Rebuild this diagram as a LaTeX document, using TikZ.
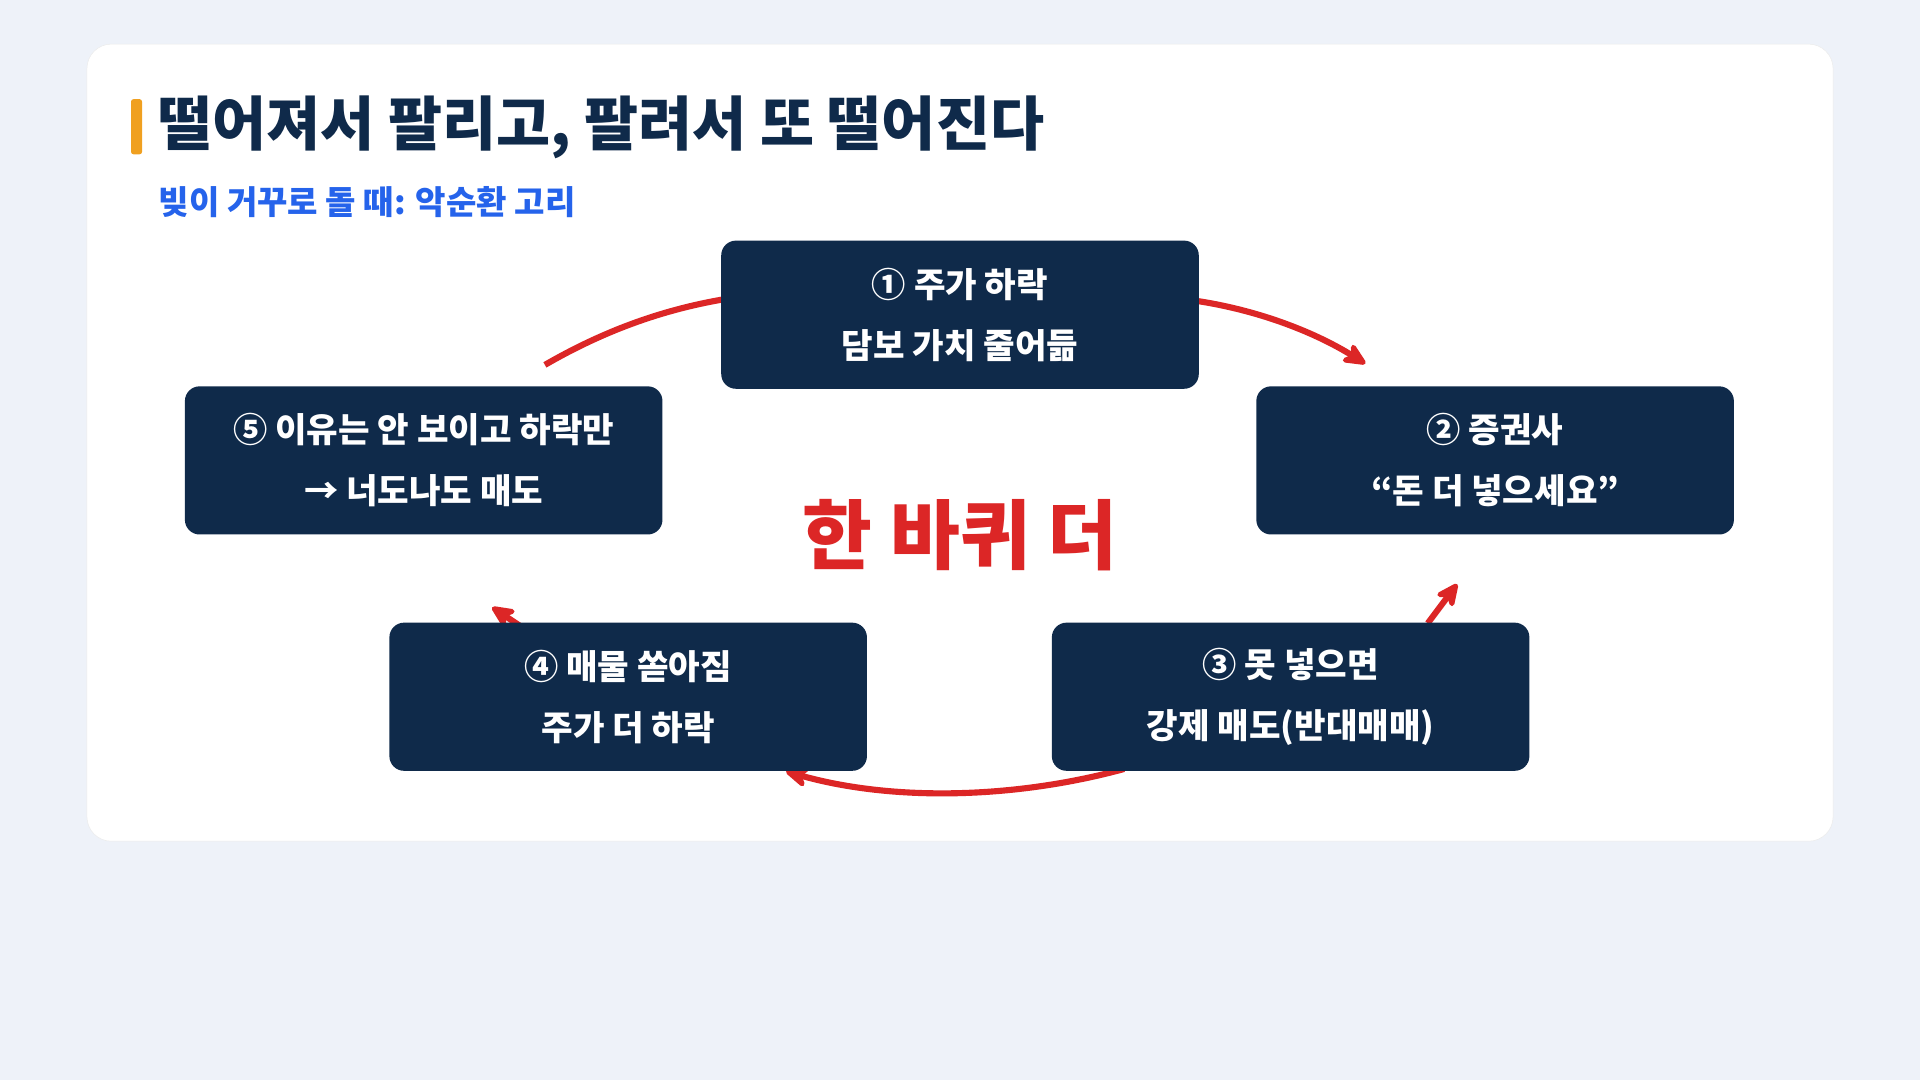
\documentclass[tikz,border=0pt]{standalone}
\usepackage{fontspec}
\setmainfont{Noto Sans CJK KR}
\usetikzlibrary{arrows.meta, positioning}
\definecolor{navy}{HTML}{0F2A4A}
\definecolor{cyclered}{HTML}{DC2626}
\definecolor{subblue}{HTML}{2563EB}
\definecolor{pagebg}{HTML}{EEF2F9}
\definecolor{barorange}{HTML}{F0A020}

\tikzset{
  stage/.style={draw=none, fill=navy, rounded corners=12pt, minimum width=390pt,
    minimum height=121pt, align=center, text=white, font=\fontsize{28}{50}\selectfont\bfseries},
  loopline/.style={draw=cyclered, line width=5pt, -{Stealth[length=24pt, width=22pt, round]}},
  plainline/.style={draw=cyclered, line width=5pt}
}

\begin{document}
\begin{tikzpicture}[x=1pt, y=-1pt]
		\fill[pagebg] (0,0) rectangle (1568,882);
		\useasboundingbox (0,0) rectangle (1568,882);

		\draw[fill=white, draw=black!8, rounded corners=20pt] (71,36) rectangle (1497,687);
		\fill[barorange, rounded corners=2pt] (107,81) rectangle (116,126);

		\node[anchor=west, text=navy, font=\fontsize{48}{50}\selectfont\bfseries] (title) at (126,104) {떨어져서 팔리고, 팔려서 또 떨어진다};
		\node[anchor=west, text=subblue, font=\fontsize{27}{30}\selectfont\bfseries] (subtitle) at (126,165) {빚이 거꾸로 돌 때: 악순환 고리};

		% arcs go under the boxes
		\coordinate (a12s) at (979,246);
		\coordinate (a12e) at (1115,297);
		\coordinate (a23s) at (1166,509);
		\coordinate (a23e) at (1190,477);
		\coordinate (a34s) at (918,628);
		\coordinate (a34e) at (642,630);
		\coordinate (a45s) at (432,516);
		\coordinate (a45e) at (402,496);
		\coordinate (a51s) at (445,298);
		\coordinate (a51e) at (600,243);

		\draw[loopline] (a12s) .. controls (1030,254) and (1075,272) .. (a12e);
		\draw[loopline] (a23s) -- (a23e);
		\draw[loopline] (a34s) .. controls (830,652) and (730,655) .. (a34e);
		\draw[loopline] (a45s) -- (a45e);
		\draw[plainline] (a51s) .. controls (490,272) and (540,252) .. (a51e);

		\node[stage] (s1) at (784,257) {① 주가 하락\\담보 가치 줄어듦};
		\node[stage] (s2) at (1221,376) {② 증권사\\“돈 더 넣으세요”};
		\node[stage] (s3) at (1054,569) {③ 못 넣으면\\강제 매도(반대매매)};
		\node[stage] (s4) at (513,569) {④ 매물 쏟아짐\\주가 더 하락};
		\node[stage] (s5) at (346,376) {⑤ 이유는 안 보이고 하락만\\→ 너도나도 매도};

		\node[text=cyclered, font=\fontsize{62}{64}\selectfont\bfseries] (loop) at (784,437) {한 바퀴 더};
\end{tikzpicture}
\end{document}
